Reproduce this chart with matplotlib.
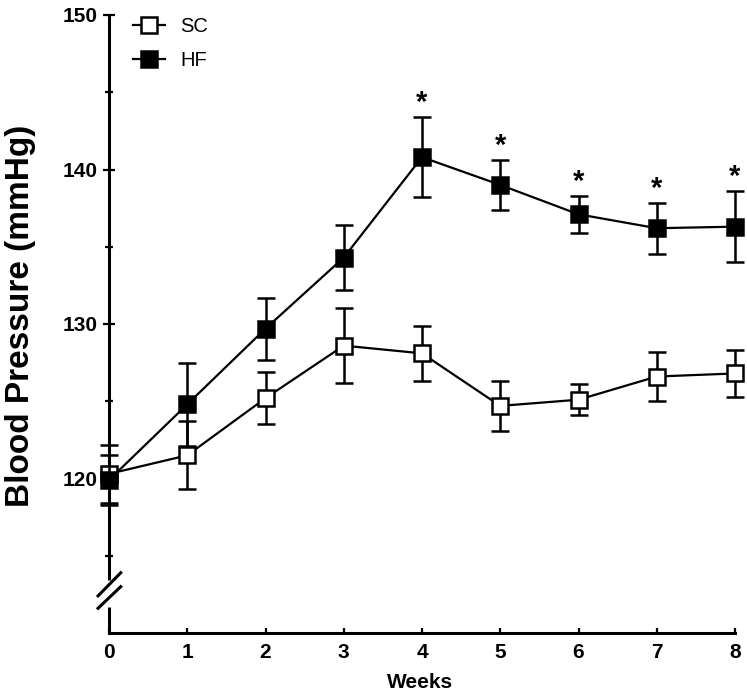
import matplotlib
matplotlib.use("Agg")
import matplotlib.pyplot as plt
from matplotlib.lines import Line2D

plt.rcParams['font.family'] = ['Liberation Sans', 'DejaVu Sans']

weeks = [0, 1, 2, 3, 4, 5, 6, 7, 8]
sc_mean = [120.3, 121.5, 125.2, 128.6, 128.1, 124.7, 125.1, 126.6, 126.8]
sc_err = [1.9, 2.2, 1.7, 2.45, 1.8, 1.6, 1.0, 1.6, 1.5]
hf_mean = [119.9, 124.8, 129.7, 134.3, 140.8, 139.0, 137.1, 136.2, 136.3]
hf_err = [1.6, 2.7, 2.0, 2.1, 2.6, 1.6, 1.2, 1.65, 2.3]
sig_weeks = [4, 5, 6, 7, 8]
y_major = [120, 130, 140, 150]
y_minor = [115, 125, 135, 145]
labels = ['SC', 'HF']

fig = plt.figure(figsize=(7.47, 6.97), dpi=100)
ax = fig.add_axes([109/747, 1-633/697, 626/747, 618/697])
ax.set_xlim(0, 8)
ax.set_ylim(110, 150)

common = dict(color='black', lw=1.6, marker='s', markersize=11, mew=1.8,
              ecolor='black', elinewidth=1.8, capsize=6.5, capthick=1.8, clip_on=False)
ax.errorbar(weeks, sc_mean, yerr=sc_err, mfc='white', mec='black', zorder=3, **common)
ax.errorbar(weeks, hf_mean, yerr=hf_err, mfc='black', mec='black', zorder=4, **common)

for ch in ax.get_children():
    try:
        ch.set_clip_on(False)
    except Exception:
        pass

for w in sig_weeks:
    i = weeks.index(w)
    ax.annotate('*', xy=(w, hf_mean[i] + hf_err[i]), xytext=(0, 10), textcoords='offset points',
                ha='center', va='center', fontsize=21, fontweight='bold')

for s in ['top', 'right', 'left']:
    ax.spines[s].set_visible(False)
ax.spines['bottom'].set_linewidth(2.2)

# broken y axis
ax.plot([0, 0], [113.4, 150], color='black', lw=2.2, clip_on=False, solid_capstyle='butt', zorder=2)
ax.plot([0, 0], [110, 111.7], color='black', lw=2.2, clip_on=False, solid_capstyle='butt', zorder=2)
ax.plot([-0.14, 0.15], [112.4, 113.9], color='black', lw=2.2, clip_on=False)
ax.plot([-0.14, 0.15], [111.6, 113.0], color='black', lw=2.2, clip_on=False)

ax.set_yticks(y_major)
ax.set_yticks(y_minor, minor=True)
ax.set_xticks(weeks)
ax.tick_params(axis='y', which='major', direction='inout', length=8, width=1.6,
               labelsize=15, pad=4)
ax.tick_params(axis='y', which='minor', direction='inout', length=6, width=1.6)
ax.tick_params(axis='x', which='major', direction='in', length=3.5, width=1.6,
               labelsize=15, pad=7)
for lab in ax.get_xticklabels() + ax.get_yticklabels():
    lab.set_fontweight('bold')

fig.text(21/747, 1-316/697, 'Blood Pressure (mmHg)', rotation=90, ha='center', va='center',
         fontsize=24, fontweight='bold')
fig.text(420/747, 1-683/697, 'Weeks', ha='center', va='center', fontsize=15, fontweight='bold')

handles = [Line2D([], [], color='black', lw=1.6, marker='s', markersize=11, mew=1.8, mfc='white', mec='black'),
           Line2D([], [], color='black', lw=1.6, marker='s', markersize=11, mew=1.8, mfc='black', mec='black')]
fig.legend(handles, labels, loc='upper left', bbox_to_anchor=(133/747, 1-17/697), frameon=False,
           fontsize=14.5, borderpad=0, borderaxespad=0, handlelength=1.6, handletextpad=0.75,
           labelspacing=0.75)

fig.savefig('out.png', dpi=100)
